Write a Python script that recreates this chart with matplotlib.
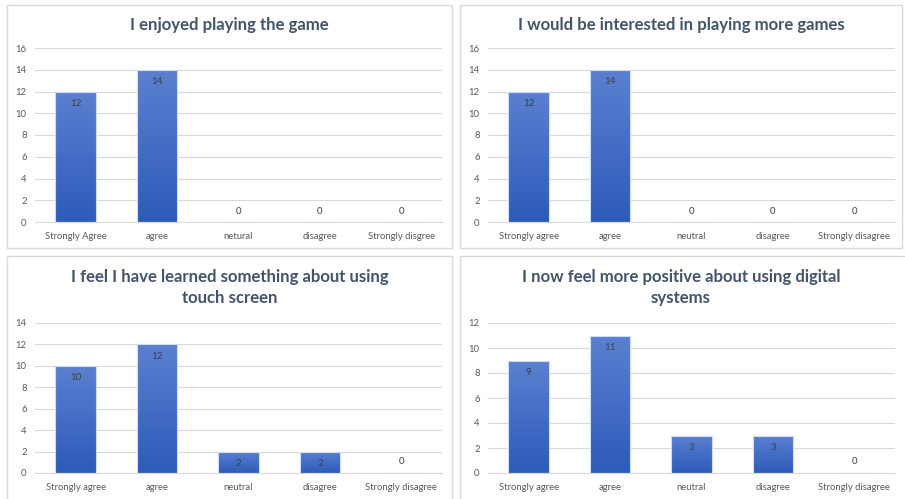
import matplotlib
matplotlib.use("Agg")
import matplotlib.pyplot as plt
import numpy as np
from matplotlib.patches import Rectangle
from matplotlib.colors import LinearSegmentedColormap

plt.rcParams['font.family'] = ['Lato', 'DejaVu Sans']

titles = [
    "I enjoyed playing the game",
    "I would be interested in playing more games",
    "I feel I have learned something about using\ntouch screen",
    "I now feel more positive about using digital\nsystems",
]
categories_1 = ["Strongly Agree", "agree", "netural", "disagree", "Strongly disgree"]
categories_2 = ["Strongly agree", "agree", "neutral", "disagree", "Strongly disagree"]
categories_3 = ["Strongly agree", "agree", "neutral", "disagree", "Strongly disagree"]
categories_4 = ["Strongly agree", "agree", "neutral", "disagree", "Strongly disagree"]

values_1 = [12, 14, 0, 0, 0]
values_2 = [12, 14, 0, 0, 0]
values_3 = [10, 12, 2, 2, 0]
values_4 = [9, 11, 3, 3, 0]

y_max = [16, 16, 14, 12]

W, H = 905, 499
fig = plt.figure(figsize=(W / 100, H / 100), dpi=100)
fig.patch.set_facecolor("white")

# panel frames (pixel boxes: x0, y0, x1, y1)
frames = [(7, 5, 452, 248), (460, 5, 902, 248), (7, 256, 452, 504), (460, 256, 908, 504)]
for x0, y0, x1, y1 in frames:
    fig.patches.append(Rectangle((x0 / W, 1 - y1 / H), (x1 - x0) / W, (y1 - y0) / H,
                                 transform=fig.transFigure, fill=False,
                                 edgecolor="#d9d9d9", lw=1.0))

# axes boxes in pixels: x0, x1, ytop, ybottom
boxes = [(35, 442, 48, 222), (488, 895, 48, 222), (35, 442, 323, 473), (488, 895, 323, 473)]
title_y = [25, 25, 287.5, 287.5]
title_x = [(7 + 452) / 2, (460 + 902) / 2, (7 + 452) / 2, (460 + 902) / 2]

cmap = LinearSegmentedColormap.from_list("bar", ["#2d5bb9", "#5b80d1"])
grad = np.linspace(0, 1, 256).reshape(-1, 1)

data = [(categories_1, values_1), (categories_2, values_2),
        (categories_3, values_3), (categories_4, values_4)]

for i, ((cats, vals), (x0, x1, yt, yb)) in enumerate(zip(data, boxes)):
    ax = fig.add_axes([x0 / W, 1 - yb / H, (x1 - x0) / W, (yb - yt) / H])
    x = np.arange(len(cats))
    ax.set_xlim(-0.5, len(cats) - 0.5)
    ax.set_ylim(0, y_max[i])
    ax.set_yticks(np.arange(0, y_max[i] + 1, 2))
    ax.set_xticks(x)
    ax.set_xticklabels(cats)
    ax.tick_params(axis="both", length=0, labelsize=6.8, colors="#595959")
    ax.tick_params(axis="x", pad=7.5)
    ax.tick_params(axis="y", pad=6)
    ax.grid(axis="y", color="#d9d9d9", lw=0.8)
    ax.set_axisbelow(True)
    for s in ["top", "right", "left"]:
        ax.spines[s].set_visible(False)
    ax.spines["bottom"].set_color("#d9d9d9")
    ax.spines["bottom"].set_linewidth(0.8)

    bars = ax.bar(x, vals, width=0.5, color="none", edgecolor="#d0dcf3", lw=0.8, zorder=3)
    for b, v in zip(bars, vals):
        if v > 0:
            im = ax.imshow(grad, extent=(b.get_x(), b.get_x() + b.get_width(), 0, v),
                           origin="lower", cmap=cmap, aspect="auto", zorder=2)
            im.set_clip_path(b)
            ax.annotate(str(v), (b.get_x() + b.get_width() / 2, v), xytext=(0, -12),
                        textcoords="offset pixels", ha="center", va="center",
                        fontsize=7, color="#404040", zorder=4)
        else:
            ax.annotate(str(v), (b.get_x() + b.get_width() / 2, v), xytext=(0, 11),
                        textcoords="offset pixels", ha="center", va="center",
                        fontsize=7, color="#404040", zorder=4)
    ax.set_xlim(-0.5, len(cats) - 0.5)

    fig.text(title_x[i] / W, 1 - title_y[i] / H, titles[i], ha="center", va="center",
             fontsize=12.1, fontweight="bold", color="#44546a", linespacing=1.45)

fig.savefig("out.png", dpi=100, facecolor="white")
